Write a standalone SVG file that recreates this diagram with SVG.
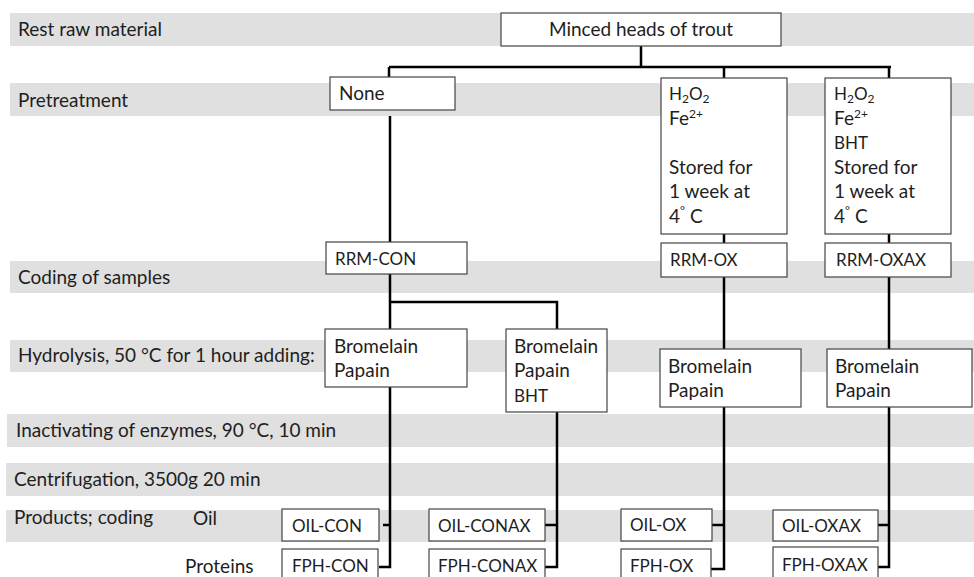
<svg xmlns="http://www.w3.org/2000/svg" width="974" height="577" viewBox="0 0 974 577">
<style>
.band{fill:#e0e0e0}
.box{fill:#fff;stroke:#444;stroke-width:1.2}
.t{font-family:Lato,"Open Sans",sans-serif;font-size:19px;fill:#1e1e1e}
.c{font-size:17px}
.ln{stroke:#000;stroke-width:2.5;fill:none}
.sub{font-size:12px}
</style>
<rect width="974" height="577" fill="#fff"/>
<g id="bands">
<rect class="band" x="10" y="13" width="964" height="33"/>
<rect class="band" x="10" y="83" width="964" height="33"/>
<rect class="band" x="10" y="261" width="964" height="32"/>
<rect class="band" x="10" y="340" width="964" height="32"/>
<rect class="band" x="7" y="414" width="967" height="33"/>
<rect class="band" x="6" y="463" width="968" height="33"/>
<rect class="band" x="6" y="510" width="968" height="32"/>
</g>
<g id="row-labels">
<text class="t" x="18" y="36">Rest raw material</text>
<text class="t" x="18" y="107">Pretreatment</text>
<text class="t" x="18" y="284">Coding of samples</text>
<text class="t" x="18" y="362">Hydrolysis, 50 °C for 1 hour adding:</text>
<text class="t" x="16" y="437">Inactivating of enzymes, 90 °C, 10 min</text>
<text class="t" x="14" y="486">Centrifugation, 3500g 20 min</text>
<text class="t" x="14" y="524">Products; coding</text>
<text class="t" x="193" y="525">Oil</text>
<text class="t" x="185" y="573">Proteins</text>
</g>
<g id="connectors">
<path class="ln" d="M641 46V67M389 67H891M389 67V77M724 67V78M889 67V78"/>
<path class="ln" d="M390 116V242"/>
<path class="ln" d="M724 234V243M889 234V243"/>
<path class="ln" d="M390 274V329M390 302H557V329"/>
<path class="ln" d="M724 277V349M889 277V349"/>
<path class="ln" d="M390 387V567H379M383 525H390"/>
<path class="ln" d="M557 412V567H545M545 525H557"/>
<path class="ln" d="M724 407V569H711M712 525H724"/>
<path class="ln" d="M889 407V567H878M878 525H889"/>
</g>
<g id="n-minced"><rect class="box" x="501" y="13" width="280" height="33"/><text class="t" x="641" y="36" text-anchor="middle">Minced heads of trout</text></g>
<g id="n-none"><rect class="box" x="330" y="77" width="125" height="33"/><text class="t" x="339" y="100">None</text></g>
<g id="n-ox-pre"><rect class="box" x="661" y="78" width="126" height="156"/>
<text class="t c" x="669" y="100">H<tspan class="sub" dy="3">2</tspan><tspan dy="-3">O</tspan><tspan class="sub" dy="3">2</tspan></text>
<text class="t" x="669" y="125">Fe<tspan class="sub" dy="-7">2+</tspan></text>
<text class="t" x="669" y="174">Stored for</text>
<text class="t" x="669" y="198">1 week at</text>
<text class="t" x="669" y="223">4<tspan class="sub" dy="-8">°</tspan><tspan dy="8"> C</tspan></text>
</g>
<g id="n-oxax-pre"><rect class="box" x="825" y="78" width="126" height="156"/>
<text class="t c" x="834" y="100">H<tspan class="sub" dy="3">2</tspan><tspan dy="-3">O</tspan><tspan class="sub" dy="3">2</tspan></text>
<text class="t" x="834" y="125">Fe<tspan class="sub" dy="-7">2+</tspan></text>
<text class="t c" x="834" y="149">BHT</text>
<text class="t" x="834" y="174">Stored for</text>
<text class="t" x="834" y="198">1 week at</text>
<text class="t" x="834" y="223">4<tspan class="sub" dy="-8">°</tspan><tspan dy="8"> C</tspan></text>
</g>
<g id="n-rrm-con"><rect class="box" x="326" y="242" width="141" height="32"/><text class="t c" x="335" y="265">RRM-CON</text></g>
<g id="n-rrm-ox"><rect class="box" x="661" y="243" width="126" height="34"/><text class="t c" x="670" y="266">RRM-OX</text></g>
<g id="n-rrm-oxax"><rect class="box" x="825" y="243" width="126" height="34"/><text class="t c" x="836" y="266">RRM-OXAX</text></g>
<g id="n-hyd-con"><rect class="box" x="325" y="329" width="142" height="58"/><text class="t" x="334" y="353">Bromelain</text><text class="t" x="334" y="377">Papain</text></g>
<g id="n-hyd-conax"><rect class="box" x="506" y="329" width="101" height="83"/><text class="t" x="514" y="353">Bromelain</text><text class="t" x="514" y="377">Papain</text><text class="t c" x="514" y="402">BHT</text></g>
<g id="n-hyd-ox"><rect class="box" x="660" y="349" width="141" height="58"/><text class="t" x="668" y="373">Bromelain</text><text class="t" x="668" y="397">Papain</text></g>
<g id="n-hyd-oxax"><rect class="box" x="827" y="349" width="145" height="58"/><text class="t" x="835" y="373">Bromelain</text><text class="t" x="835" y="397">Papain</text></g>
<g id="n-oil-con"><rect class="box" x="282" y="509" width="97" height="32"/><text class="t c" x="292" y="532">OIL-CON</text></g>
<g id="n-fph-con"><rect class="box" x="282" y="549" width="96" height="34"/><text class="t c" x="292" y="572">FPH-CON</text></g>
<g id="n-oil-conax"><rect class="box" x="429" y="509" width="116" height="32"/><text class="t c" x="438" y="532">OIL-CONAX</text></g>
<g id="n-fph-conax"><rect class="box" x="429" y="549" width="116" height="34"/><text class="t c" x="438" y="572">FPH-CONAX</text></g>
<g id="n-oil-ox"><rect class="box" x="621" y="509" width="91" height="32"/><text class="t c" x="630" y="531">OIL-OX</text></g>
<g id="n-fph-ox"><rect class="box" x="621" y="549" width="90" height="34"/><text class="t c" x="630" y="572">FPH-OX</text></g>
<g id="n-oil-oxax"><rect class="box" x="773" y="510" width="105" height="31"/><text class="t c" x="782" y="532">OIL-OXAX</text></g>
<g id="n-fph-oxax"><rect class="box" x="773" y="547" width="105" height="36"/><text class="t c" x="782" y="571">FPH-OXAX</text></g>
</svg>
